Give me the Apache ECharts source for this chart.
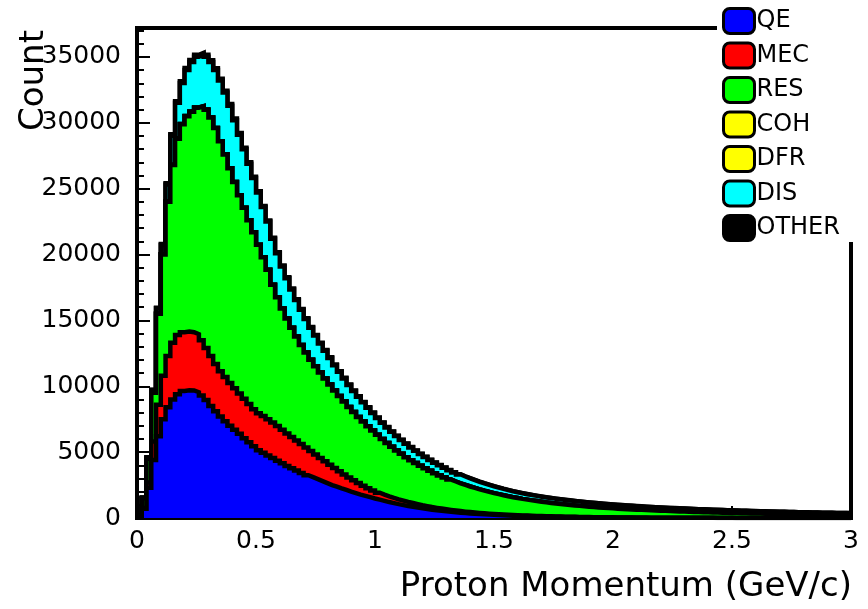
<!DOCTYPE html>
<html><head><meta charset="utf-8">
<script src="https://cdn.jsdelivr.net/npm/echarts@6/dist/echarts.min.js"></script>
<style>html,body{margin:0;padding:0;background:#fff}#c{width:868px;height:609px}</style>
</head><body><div id="c"></div><script>
// Histogram binning: 150 bins of 0.02 GeV/c from 0 to 3
const binWidth = 0.02;
const xMin = 0, xMax = 3;
const yMax = 37200;
const xTickStep = 0.5;
const yTickStep = 5000;
const xTitle = 'Proton Momentum (GeV/c)';
const yTitle = 'Count';
const names = ['QE', 'MEC', 'RES', 'COH', 'DFR', 'DIS', 'OTHER'];
const fillColors = ['#0000ff', '#ff0000', '#00ff00', '#ffff00', '#ffff00', '#00ffff', '#000000'];

const qe = [60,700,2300,4400,6200,7500,8400,9000,9400,9650,
 9700,9680,9550,9300,8950,8500,8100,7700,7350,7000,
 6700,6400,6050,5750,5450,5150,4950,4750,4550,4350,
 4150,3950,3780,3600,3420,3250,3100,2950,2800,2650,
 2500,2380,2250,2130,2000,1890,1780,1680,1580,1480,
 1390,1300,1210,1130,1050,980,910,850,790,730,
 680,630,585,545,505,470,435,405,375,350,
 325,300,280,260,240,225,210,195,180,168,
 156,145,135,125,116,108,100,93,86,80,
 74,69,64,59,55,51,47,44,41,38,
 35,33,31,29,27,25,23,22,20,19,
 18,17,16,15,14,13,12,11,11,10,
 10,9,9,8,8,7,7,7,6,6,
 6,5,5,5,5,4,4,4,4,3,
 3,3,3,3,3,2,2,2,2,2];

const mec = [0,50,400,1400,2400,3300,3900,4300,4500,4450,
 4450,4420,4400,4200,3950,3800,3600,3450,3350,3250,
 3150,3050,3000,2900,2800,2800,2800,2750,2700,2630,
 2550,2470,2370,2280,2200,2100,1980,1870,1760,1650,
 1550,1420,1300,1170,1080,970,870,770,680,600,
 530,480,440,400,370,340,310,285,260,240,
 220,200,185,170,155,142,130,120,110,100,
 92,85,78,72,66,60,55,51,47,43,
 40,37,34,31,29,27,25,23,21,19,
 18,17,16,15,14,13,12,11,10,10,
 9,9,8,8,7,7,6,6,6,5,
 5,5,4,4,4,4,3,3,3,3,
 3,3,2,2,2,2,2,2,2,1,
 1,1,1,1,1,1,1,1,1,1,
 1,1,1,0,0,0,0,0,0,0];

const res = [90,750,1800,3700,6900,9200,11700,13500,14900,15800,
 16350,16750,17200,17750,18100,18100,17900,17450,16900,16300,
 15650,15050,14500,13950,13450,12800,12050,11350,10450,9770,
 9200,8730,8300,7890,7520,7210,6940,6710,6480,6290,
 6090,5880,5720,5550,5350,5190,5020,4870,4710,4560,
 4400,4220,4050,3880,3710,3550,3400,3255,3120,2995,
 2870,2750,2630,2515,2410,2303,2205,2110,2025,1942,
 1867,1790,1717,1652,1586,1525,1462,1408,1353,1304,
 1254,1212,1169,1130,1089,1051,1018,983,953,922,
 894,865,840,815,789,767,745,722,704,684,
 665,649,633,616,601,586,573,558,545,532,
 518,506,494,482,470,459,449,439,428,419,
 408,399,390,381,372,364,356,348,341,335,
 327,320,313,306,299,293,287,281,275,270,
 265,260,255,251,246,243,239,235,231,227];

const coh = [0,2,5,10,15,20,20,20,20,18,
 16,15,14,12,10,9,8,7,6,5,
 5,4,4,3,3,3,2,2,2,2,
 1,1,1,1,1,1,1,0,0,0,
 0,0,0,0,0,0,0,0,0,0,
 0,0,0,0,0,0,0,0,0,0,
 0,0,0,0,0,0,0,0,0,0,
 0,0,0,0,0,0,0,0,0,0,
 0,0,0,0,0,0,0,0,0,0,
 0,0,0,0,0,0,0,0,0,0,
 0,0,0,0,0,0,0,0,0,0,
 0,0,0,0,0,0,0,0,0,0,
 0,0,0,0,0,0,0,0,0,0,
 0,0,0,0,0,0,0,0,0,0,
 0,0,0,0,0,0,0,0,0,0];

const dfr = [0,0,1,1,2,3,3,3,3,3,
 2,2,2,2,2,1,1,1,1,1,
 1,1,0,0,0,0,0,0,0,0,
 0,0,0,0,0,0,0,0,0,0,
 0,0,0,0,0,0,0,0,0,0,
 0,0,0,0,0,0,0,0,0,0,
 0,0,0,0,0,0,0,0,0,0,
 0,0,0,0,0,0,0,0,0,0,
 0,0,0,0,0,0,0,0,0,0,
 0,0,0,0,0,0,0,0,0,0,
 0,0,0,0,0,0,0,0,0,0,
 0,0,0,0,0,0,0,0,0,0,
 0,0,0,0,0,0,0,0,0,0,
 0,0,0,0,0,0,0,0,0,0,
 0,0,0,0,0,0,0,0,0,0];

const dis = [10,50,100,200,400,700,1300,2200,2700,3100,
 3500,3750,3850,3900,4000,4200,4400,4600,4700,4750,
 4700,4600,4450,4300,4100,3950,3800,3650,3500,3350,
 3200,3050,2900,2780,2660,2540,2430,2320,2210,2110,
 2010,1920,1830,1750,1670,1600,1530,1460,1400,1340,
 1280,1230,1180,1130,1090,1050,1010,970,930,895,
 860,830,800,770,740,715,690,665,640,618,
 596,575,555,536,518,500,483,466,450,435,
 425,413,402,392,383,375,368,362,357,353,
 350,342,335,328,321,315,309,303,297,292,
 286,281,276,271,266,261,256,252,248,244,
 240,236,232,228,225,222,219,216,213,210,
 207,204,201,198,195,192,189,186,183,180,
 178,176,174,172,170,168,166,164,162,160,
 158,156,154,152,150,148,146,144,142,140];

const other = [0,5,15,30,50,70,90,110,120,130,
 140,145,150,150,150,145,140,135,130,125,
 120,115,110,105,100,95,90,86,82,78,
 74,70,67,64,61,58,55,52,50,48,
 46,44,42,40,38,36,35,34,32,31,
 30,29,28,27,26,25,24,23,22,21,
 20,20,19,18,18,17,16,16,15,15,
 14,14,13,13,12,12,12,11,11,11,
 10,10,10,9,9,9,9,8,8,8,
 8,8,7,7,7,7,7,6,6,6,
 6,6,6,5,5,5,5,5,5,5,
 5,4,4,4,4,4,4,4,4,4,
 4,3,3,3,3,3,3,3,3,3,
 3,3,3,3,3,2,2,2,2,2,
 2,2,2,2,2,2,2,2,2,2];

const values = [qe, mec, res, coh, dfr, dis, other];
const FONT = 'DejaVu Sans';

// THStack style: each layer drawn from 0 up to the running sum of itself and the layers below
const cumulative = [];
values.forEach((arr, k) => {
  cumulative.push(arr.map((v, i) => v + (k > 0 ? cumulative[k - 1][i] : 0)));
});

function toSteps(arr) {
  const pts = arr.map((v, i) => [+(xMin + i * binWidth).toFixed(4), v]);
  pts.push([xMax, arr[arr.length - 1]]);
  return pts;
}

const series = names.map((n, k) => ({
  name: n,
  type: 'line',
  step: 'end',
  data: toSteps(cumulative[k]),
  symbol: 'none',
  showSymbol: false,
  z: 20 - k,
  lineStyle: { color: '#000', width: 4.5, join: 'miter' },
  areaStyle: { color: fillColors[k], opacity: 1, origin: 'start' },
  itemStyle: { color: fillColors[k] },
  emphasis: { disabled: true },
  silent: true
}));

const chart = echarts.init(document.getElementById('c'), null, { renderer: 'canvas' });
chart.setOption({
  animation: false,
  backgroundColor: '#fff',
  grid: { left: 137, right: 17, top: 28, bottom: 91, show: true, borderColor: '#000', borderWidth: 4, backgroundColor: 'transparent' },
  xAxis: {
    type: 'value', min: xMin, max: xMax, interval: xTickStep,
    axisLine: { show: true, lineStyle: { color: '#000', width: 4 } },
    axisTick: { show: true, inside: true, length: 12, lineStyle: { color: '#000', width: 2 } },
    minorTick: { show: true, splitNumber: 5, length: 6, lineStyle: { color: '#000', width: 2 } },
    splitLine: { show: false },
    axisLabel: { color: '#000', fontFamily: FONT, fontSize: 25, margin: 11, formatter: v => String(v) }
  },
  yAxis: {
    type: 'value', min: 0, max: yMax, interval: yTickStep,
    axisLine: { show: true, lineStyle: { color: '#000', width: 4 } },
    axisTick: { show: true, inside: true, length: 13, lineStyle: { color: '#000', width: 2 } },
    minorTick: { show: true, splitNumber: 5, length: 7, lineStyle: { color: '#000', width: 2 } },
    splitLine: { show: false },
    axisLabel: { color: '#000', fontFamily: FONT, fontSize: 25, margin: 16, showMaxLabel: false, formatter: v => String(v) }
  },
  legend: {
    orient: 'vertical', left: 717, top: 0,
    padding: [7, 20, 0, 5],
    backgroundColor: '#fff',
    itemWidth: 31, itemHeight: 25, itemGap: 6.5,
    z: 30,
    selectedMode: false,
    icon: 'roundRect',
    itemStyle: { borderColor: '#000', borderWidth: 3 },
    textStyle: { color: '#000', fontFamily: FONT, fontSize: 24, padding: [0, 0, 0, -3] },
    data: names.map((n, k) => ({ name: n, icon: 'roundRect', itemStyle: { color: fillColors[k], borderColor: '#000', borderWidth: 3 } }))
  },
  graphic: [
    { type: 'text', x: 852, y: 587, z: 40,
      style: { text: xTitle, fill: '#000', font: '34px "DejaVu Sans"', textAlign: 'right', textVerticalAlign: 'middle' } },
    { type: 'text', x: 34, y: 30, rotation: Math.PI / 2, z: 40,
      style: { text: yTitle, fill: '#000', font: '34px "DejaVu Sans"', textAlign: 'right', textVerticalAlign: 'middle' } }
  ],
  series: series
});
</script></body></html>
